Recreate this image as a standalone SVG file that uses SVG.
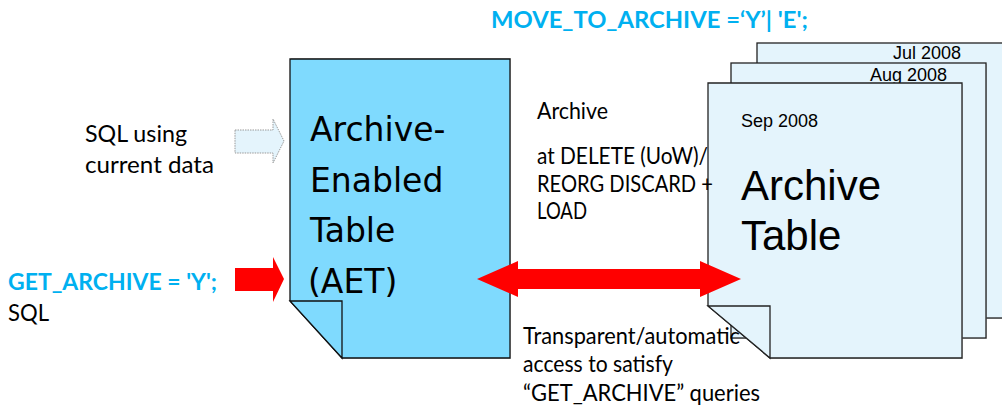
<svg xmlns="http://www.w3.org/2000/svg" width="1002" height="407" viewBox="0 0 1002 407">
<style>
.cal{font-family:Lato,"Open Sans","Liberation Sans",sans-serif;font-size:23px;fill:#000}
.calb{font-family:Lato,"Open Sans","Liberation Sans",sans-serif;font-size:23px;font-weight:bold;fill:#00B0F0}
.aet{font-family:"DejaVu Sans",sans-serif;font-size:33px;fill:#000}
.ar{font-family:"Liberation Sans",Arial,sans-serif;fill:#000}
.pg{fill:#E4F4FC;stroke:#222;stroke-width:1.3}
.shadow{fill:#aaa;opacity:0.5}
</style>
<rect width="1002" height="407" fill="#fff"/>

<g id="archive-table">
  <rect class="shadow" x="758" y="44" width="260" height="275"/>
  <rect class="pg" x="757" y="43" width="260" height="275"/>
  <text class="ar" x="961" y="59" font-size="18" text-anchor="end">Jul 2008</text>
  <rect class="shadow" x="732" y="64" width="255" height="275"/>
  <rect class="pg" x="731" y="63" width="255" height="275"/>
  <text class="ar" x="947" y="81" font-size="18" text-anchor="end">Aug 2008</text>
  <polygon class="shadow" points="709,84 963,84 963,359 771,359 709,307"/>
  <polygon class="pg" points="708,83 962,83 962,358 770,358 708,306"/>
  <polygon class="pg" points="708,306 770,306 770,358"/>
  <text class="ar" x="741" y="127" font-size="18">Sep 2008</text>
  <text class="ar" x="741" y="200" font-size="42">Archive</text>
  <text class="ar" x="741" y="250" font-size="42">Table</text>
</g>

<g id="aet">
  <polygon class="shadow" points="291,58 511,58 511,359 343,359 291,302"/>
  <polygon points="290,59 510,59 510,358 342,358 290,301" fill="#7FDAFE" stroke="#111" stroke-width="1.3"/>
  <polygon points="290,301 342,301 342,358" fill="#7FDAFE" stroke="#111" stroke-width="1.3"/>
  <text class="aet" x="310" y="141">Archive-</text>
  <text class="aet" x="310" y="192">Enabled</text>
  <text class="aet" x="310" y="242">Table</text>
  <text class="aet" x="308" y="293">(AET)</text>
</g>

<g id="connectors">
  <polygon id="sql-arrow" points="235,130 273,130 273,119 284,141 273,163 273,153 235,153" fill="#E4F4FC" stroke="#999" stroke-width="1" stroke-dasharray="1.5,1"/>
  <polygon id="get-arrow" points="235,268 273,268 273,257 284,279 273,302 273,291 235,291" fill="#FF0000"/>
  <polygon id="access-arrow" points="477,279 518,261 518,269 700,269 700,261 741,279 700,297 700,289 518,289 518,297" fill="#FF0000"/>
</g>

<g id="labels">
  <text class="calb" x="491" y="28" textLength="317" lengthAdjust="spacingAndGlyphs">MOVE_TO_ARCHIVE =‘Y’| 'E';</text>
  <text class="cal" x="85" y="142" textLength="102" lengthAdjust="spacingAndGlyphs">SQL using</text>
  <text class="cal" x="85" y="173" textLength="129" lengthAdjust="spacingAndGlyphs">current data</text>
  <text class="cal" x="537" y="119" textLength="71" lengthAdjust="spacingAndGlyphs">Archive</text>
  <text class="cal" x="537" y="164" textLength="171" lengthAdjust="spacingAndGlyphs">at DELETE (UoW)/</text>
  <text class="cal" x="537" y="192" textLength="176" lengthAdjust="spacingAndGlyphs">REORG DISCARD +</text>
  <text class="cal" x="537" y="219" textLength="50" lengthAdjust="spacingAndGlyphs">LOAD</text>
  <text class="calb" x="8" y="290" textLength="209" lengthAdjust="spacingAndGlyphs">GET_ARCHIVE = 'Y';</text>
  <text class="cal" x="8" y="321" textLength="41" lengthAdjust="spacingAndGlyphs">SQL</text>
  <text class="cal" x="523" y="344" textLength="217" lengthAdjust="spacingAndGlyphs">Transparent/automatic</text>
  <text class="cal" x="523" y="372" textLength="150" lengthAdjust="spacingAndGlyphs">access to satisfy</text>
  <text class="cal" x="523" y="401" textLength="237" lengthAdjust="spacingAndGlyphs">“GET_ARCHIVE” queries</text>
</g>
</svg>
